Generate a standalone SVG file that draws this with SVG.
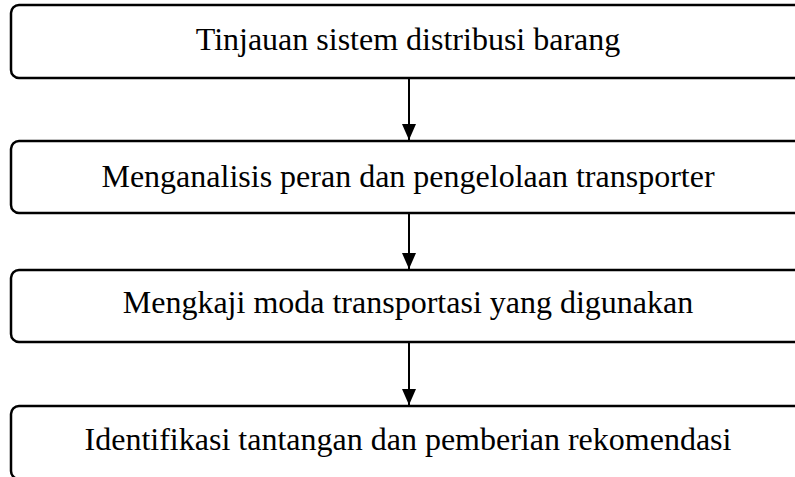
<svg xmlns="http://www.w3.org/2000/svg" width="795" height="477" viewBox="0 0 795 477">
<style>
.box{fill:#fff;stroke:#000;stroke-width:2.5}
.lbl{font-family:"Liberation Serif","Times New Roman",serif;font-size:32px;fill:#000;text-anchor:middle}
.conn{stroke:#000;stroke-width:2;fill:none}
</style>
<defs>
<marker id="ah" viewBox="0 0 16 14" refX="16" refY="7" markerWidth="16" markerHeight="14" markerUnits="userSpaceOnUse" orient="auto">
<path d="M0,0 L16,7 L0,14 Z" fill="#000"/>
</marker>
</defs>
<rect width="795" height="477" fill="#fff"/>
<g id="connectors">
<line class="conn" x1="409" y1="78" x2="409" y2="140" marker-end="url(#ah)"/>
<line class="conn" x1="409" y1="213" x2="409" y2="269" marker-end="url(#ah)"/>
<line class="conn" x1="409" y1="342" x2="409" y2="405" marker-end="url(#ah)"/>
</g>
<g id="n1"><rect class="box" x="11" y="5" width="796" height="73" rx="8"/><text class="lbl" x="408" y="50">Tinjauan sistem distribusi barang</text></g>
<g id="n2"><rect class="box" x="11" y="141" width="796" height="72" rx="8"/><text class="lbl" x="408" y="187">Menganalisis peran dan pengelolaan transporter</text></g>
<g id="n3"><rect class="box" x="11" y="270" width="796" height="72" rx="8"/><text class="lbl" x="408" y="313">Mengkaji moda transportasi yang digunakan</text></g>
<g id="n4"><rect class="box" x="11" y="406" width="796" height="73" rx="8"/><text class="lbl" x="408" y="450">Identifikasi tantangan dan pemberian rekomendasi</text></g>
</svg>
